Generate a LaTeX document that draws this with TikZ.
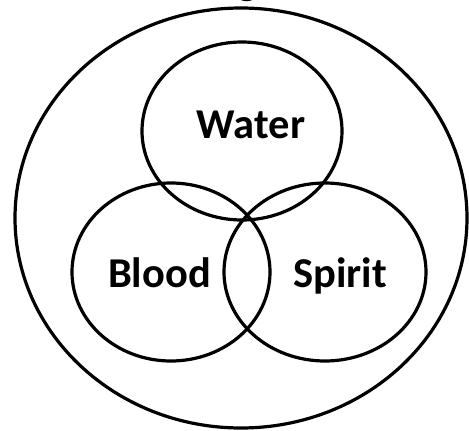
\documentclass[tikz,border=0pt]{standalone}
\usepackage{fontspec}
\setmainfont{Carlito}
\begin{document}
\begin{tikzpicture}[x=1pt,y=-1pt,
  ring/.style={draw=black,line width=3.2pt},
  lbl/.style={font=\fontsize{42.5}{46}\selectfont\bfseries,anchor=base,inner sep=0pt}]
\useasboundingbox (0,0) rectangle (469,431);
\clip (0,0) rectangle (469,431);
\node[lbl] (title) at (248,-5.5) {g};
\draw[ring] (241,218) ellipse [x radius=226, y radius=210];
\draw[ring] (242,131) ellipse [x radius=100, y radius=89];
\draw[ring] (171,272) ellipse [x radius=99, y radius=89];
\draw[ring] (325,272) ellipse [x radius=101, y radius=89];
\node[lbl] (water) at (251,138) {Water};
\node[lbl] (blood) at (159.5,287) {Blood};
\node[lbl] (spirit) at (340,287) {Spirit};
\end{tikzpicture}
\end{document}
